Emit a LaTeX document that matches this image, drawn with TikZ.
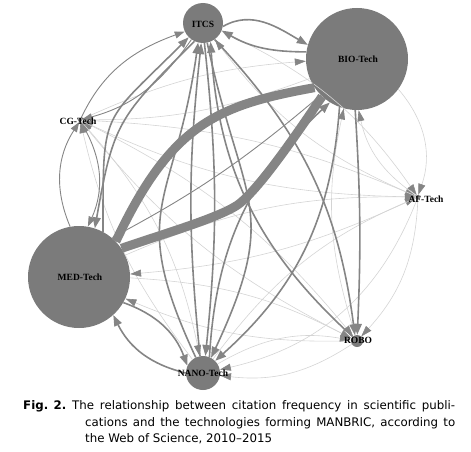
\documentclass[tikz,border=0pt]{standalone}
\usepackage{fontspec}
\setmainfont{Liberation Serif}
\newfontfamily\capfont{DejaVu Sans}
\usetikzlibrary{arrows.meta}
\definecolor{nodeG}{HTML}{7B7B7B}
\definecolor{edgeD}{HTML}{858585}
\definecolor{edgeL}{HTML}{D4D4D4}
\begin{document}
\begin{tikzpicture}[x=1pt,y=1pt,
  tnode/.style={circle,fill=nodeG,draw=none,inner sep=0pt},
  lbl/.style={font=\bfseries\fontsize{9.5}{10}\selectfont,text=black,inner sep=0pt},
  dk/.style={draw=edgeD,line width=1.6pt,-{Triangle[length=11pt,width=8pt]}},
  dkthin/.style={draw=edgeD,line width=0.9pt,-{Triangle[length=10pt,width=7pt]}},
  lt/.style={draw=edgeL,line width=0.6pt,-{Triangle[length=11pt,width=7pt,color=edgeD]}},
  heavy/.style={draw=edgeD,line width=9pt},
  captxt/.style={font=\capfont\fontsize{11.8}{13}\selectfont,inner sep=0pt,anchor=base west}
]
\useasboundingbox (0,0) rectangle (471,451);

% nodes
\node[tnode,minimum size=40pt] (ITCS) at (203,428) {};
\node[tnode,minimum size=102pt] (BIO) at (357,392) {};
\node[tnode,minimum size=102pt] (MED) at (79,174) {};
\node[tnode,minimum size=34pt] (NANO) at (203,78) {};
\node[tnode,minimum size=12pt] (ROBO) at (357,110) {};
\node[tnode,minimum size=4pt] (CG) at (80,331) {};
\node[tnode,minimum size=4pt] (AF) at (418,254) {};

% light edges
\draw[lt] (BIO) to[bend left=10] (CG);
\draw[lt] (CG) to[bend left=10] (BIO);
\draw[lt] (AF) to[bend left=12] (CG);
\draw[lt] (ROBO) to[bend left=12] (CG);
\draw[lt] (NANO) to[bend left=12] (CG);
\draw[lt] (ITCS) to[bend left=15] (AF);
\draw[lt] (BIO) to[bend left=30] (AF);
\draw[lt] (CG) to[bend left=10] (AF);
\draw[lt] (MED) to[bend left=12] (AF);
\draw[lt] (NANO) to[bend left=15] (AF);
\draw[lt] (CG) to[bend left=12] (ROBO);
\draw[lt] (MED) to[bend left=12] (ROBO);
\draw[lt] (AF) to[bend left=20] (ROBO);
\draw[lt] (NANO) to[bend left=20] (ROBO);
\draw[lt] (ROBO) to[bend left=20] (NANO);
\draw[lt] (AF) to[bend left=28] (NANO);
\draw[lt] (AF) to[bend left=10] (MED);
\draw[lt] (ROBO) to[bend left=12] (MED);
\draw[lt] (AF) to[bend left=22] (BIO);
\draw[lt] (ROBO) to[bend left=15] (BIO);
\draw[lt] (AF) to[bend left=15] (ITCS);
\draw[lt] (CG) to[bend left=15] (NANO);

% heavy edges
\draw[heavy] (MED.44) .. controls (170.9,326.8) and (216.5,345.6) .. (BIO.214);
\draw[heavy] (MED.34) .. controls (160,216) and (215,232) .. (236,245)
                      .. controls (257,258) and (300,322) .. (BIO.227);

% dark edges
\draw[dk] (ITCS.-10) to[out=30,in=150] (BIO.164);
\draw[dk] (BIO.172) to[out=180,in=-30] (ITCS.-22);
\draw[dkthin] (CG.60) to[out=65,in=200] (ITCS.205);
\draw[dkthin] (ITCS.235) to[out=235,in=15] (CG);
\draw[dk] (MED.62) to[out=90,in=225,looseness=1.5] (ITCS.225);
\draw[dk] (ITCS.245) to[out=225,in=80,looseness=1.3] (MED.72);
\draw[dk] (NANO.115) to[out=115,in=262,looseness=1.35] (ITCS.256);
\draw[dk] (ITCS.282) to[out=282,in=65,looseness=1.35] (NANO.62);
\draw[dk] (NANO.100) to[bend left=6] (ITCS.265);
\draw[dk] (ITCS.274) to[bend left=6] (NANO.82);
\draw[dk] (NANO.68) to[bend left=22] (BIO.238);
\draw[dk] (BIO.250) to[bend left=22] (NANO.45);
\draw[dk] (BIO.268) to[bend left=3] (ROBO);
\draw[dk] (ITCS.305) to[bend left=18] (ROBO.110);
\draw[dk] (ROBO.135) to[bend left=22] (ITCS.292);
\draw[dk] (MED.-30) to[bend left=25] (NANO.155);
\draw[dk] (NANO.180) to[bend left=25] (MED.-48);
\draw[dkthin] (CG.-70) to[bend left=28] (MED.80);
\draw[dkthin] (MED.100) to[bend left=28] (CG.-110);
\draw[dkthin] (BIO.225) to[bend left=6] (MED.50);

% labels
\node[lbl] (ITCSl) at (203,427) {ITCS};
\node[lbl] (BIOl) at (358,392) {BIO-Tech};
\node[lbl] (MEDl) at (80,174) {MED-Tech};
\node[lbl] (NANOl) at (203,78) {NANO-Tech};
\node[lbl] (ROBOl) at (358,111) {ROBO};
\node[lbl] (CGl) at (78,330) {CG-Tech};
\node[lbl] (AFl) at (426,252) {AF-Tech};

% caption
\node[captxt,font=\capfont\bfseries\fontsize{11.8}{13}\selectfont] (figl) at (23,42) {Fig. 2.};
\node[captxt] (cap1) at (72,42) {\makebox[383pt][s]{The relationship between citation frequency in scientific publi-}};
\node[captxt] (cap2) at (85,25) {\makebox[370pt][s]{cations and the technologies forming MANBRIC, according to}};
\node[captxt] (cap3) at (85,9) {the Web of Science, 2010–2015};
\end{tikzpicture}
\end{document}
